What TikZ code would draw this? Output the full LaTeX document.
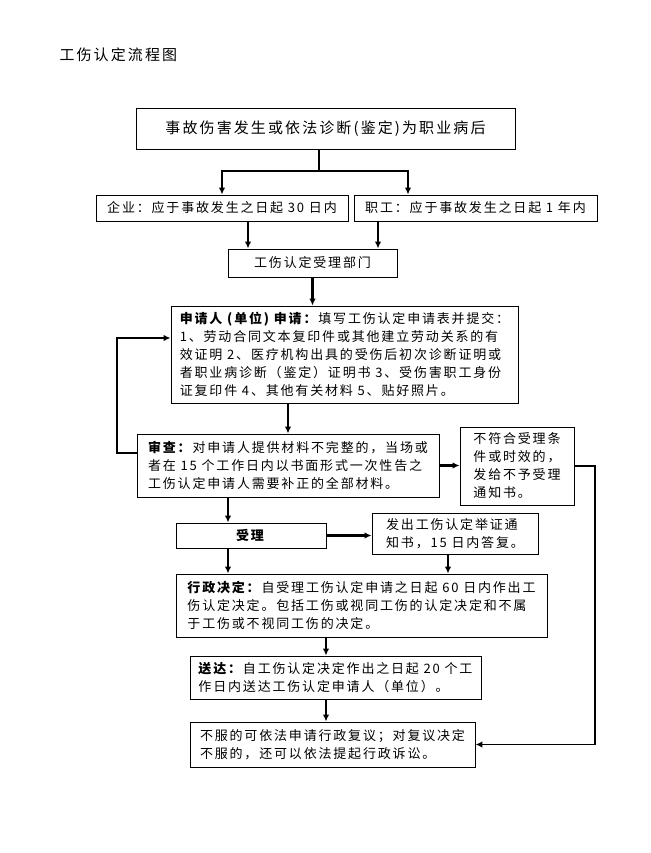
\documentclass[tikz,border=0pt]{standalone}
\usepackage{fontspec}
\setmainfont{Noto Sans CJK SC}[LetterSpace=14]
\usetikzlibrary{arrows.meta}

\providecommand{\titlefontsize}{\fontsize{15}{18}\selectfont}
\providecommand{\headfontsize}{\fontsize{15}{18}\selectfont}
\providecommand{\boxfontsize}{\fontsize{13}{18}\selectfont}

\begin{document}
\begin{tikzpicture}[x=1pt,y=-1pt,
    box/.style={draw,line width=0.9pt,inner sep=0pt,align=left,font=\boxfontsize},
    arrow/.style={line width=2.4pt,-{Latex[length=7pt,width=6.5pt]}},
    thinarrow/.style={line width=1.6pt,-{Latex[length=7pt,width=6.5pt]}}]
    \useasboundingbox (0,0) rectangle (650,853);
    \node[anchor=west,font=\titlefontsize] (title) at (56,55) {工伤认定流程图};
    % top of the chart
    \node[box,font=\headfontsize,minimum width=379pt,minimum height=41pt] (b1) at (325.5,128.5) {事故伤害发生或依法诊断(鉴定)为职业病后};
    \node[box,minimum width=252pt,minimum height=26pt] (b2a) at (222,208) {企业：应于事故发生之日起 30 日内};
    \node[box,minimum width=243pt,minimum height=26pt] (b2b) at (475.5,208) {职工：应于事故发生之日起 1 年内};
    \node[box,minimum width=169pt,minimum height=28pt] (b3) at (312.5,263) {工伤认定受理部门};
    % application and review
    \node[box,minimum width=347pt,minimum height=97pt] (b4) at (344.5,354.5)
    {\textbf{申请人 (单位) 申请：}填写工伤认定申请表并提交：\\
     1、劳动合同文本复印件或其他建立劳动关系的有\\
     效证明 2、医疗机构出具的受伤后初次诊断证明或\\
     者职业病诊断（鉴定）证明书 3、受伤害职工身份\\
     证复印件 4、其他有关材料 5、贴好照片。};
    \node[box,minimum width=302pt,minimum height=63pt] (b5) at (288,465.5)
    {\textbf{审查：}对申请人提供材料不完整的，当场或\\
     者在 15 个工作日内以书面形式一次性告之\\
     工伤认定申请人需要补正的全部材料。};
    \node[box,minimum width=114pt,minimum height=78pt] (b6) at (517,466)
    {不符合受理条\\件或时效的，\\发给不予受理\\通知书。};
    % decision
    \node[box,minimum width=150pt,minimum height=25pt] (b7) at (251,535.5) {\textbf{受理}};
    \node[box,minimum width=166pt,minimum height=41pt] (b8) at (455,533.5)
    {发出工伤认定举证通\\知书，15 日内答复。};
    \node[box,minimum width=371pt,minimum height=63pt] (b9) at (361.5,605.5)
    {\textbf{行政决定：}自受理工伤认定申请之日起 60 日内作出工\\
     伤认定决定。包括工伤或视同工伤的认定决定和不属\\
     于工伤或不视同工伤的决定。};
    \node[box,minimum width=291pt,minimum height=43pt] (b10) at (335.5,677.5)
    {\textbf{送达：}自工伤认定决定作出之日起 20 个工\\
     作日内送达工伤认定申请人（单位）。};
    \node[box,minimum width=285pt,minimum height=45pt] (b11) at (332.5,744.5)
    {不服的可依法申请行政复议；对复议决定\\
     不服的，还可以依法提起行政诉讼。};
    % helper columns for the connectors
    \coordinate (split) at (319,171);
    \coordinate (colA) at (248,0);
    \coordinate (colB) at (378,0);
    \coordinate (colC) at (228,0);
    \coordinate (colD) at (448,0);
    \coordinate (colE) at (326,0);
    \coordinate (loop) at (117,338);
    \coordinate (rt) at (595,0);
    % connectors
    \draw[line width=1.2pt] (b1.south -| split) -- (split);
    \draw[arrow] (split) -| (b2a.north);
    \draw[arrow] (split) -| ([xshift=-67.5pt]b2b.north);
    \draw[arrow] (b2a.south -| colA) -- (b3.north -| colA);
    \draw[arrow] (b2b.south -| colB) -- (b3.north -| colB);
    \draw[arrow] (b3.south) -- (b3.south |- b4.north);
    \draw[arrow] (b4.south -| b5.north) -- (b5.north);
    \draw[thinarrow] ([yshift=12.5pt]b5.west) -| (loop) -- ([yshift=16.5pt]b4.west);
    \draw[arrow] (b5.east) -- (b5.east -| b6.west);
    \draw[thinarrow] (b6.east) -- (b6.east -| rt) |- (b11.east);
    \draw[arrow] (b5.south -| colC) -- (b7.north -| colC);
    \draw[arrow] (b7.east) -- (b7.east -| b8.west);
    \draw[arrow] (b7.south -| colC) -- (b9.north -| colC);
    \draw[arrow] (b8.south -| colD) -- (b9.north -| colD);
    \draw[arrow] (b9.south -| colE) -- (b10.north -| colE);
    \draw[arrow] (b10.south -| colE) -- (b11.north -| colE);
\end{tikzpicture}
\end{document}
